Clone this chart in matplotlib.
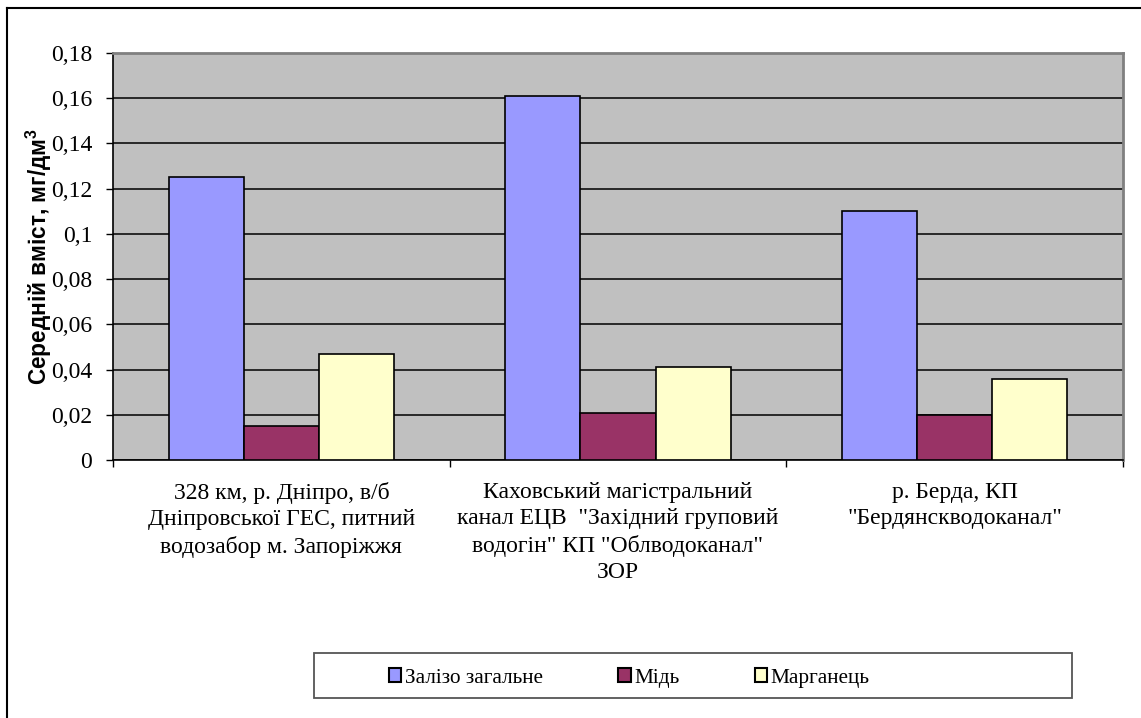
import matplotlib
matplotlib.use("Agg")
import matplotlib.pyplot as plt
from matplotlib.patches import Rectangle, Patch
from matplotlib.lines import Line2D
import numpy as np

plt.rcParams['font.family'] = ['Liberation Serif', 'DejaVu Serif']
plt.rcParams['mathtext.fontset'] = 'custom'
plt.rcParams['mathtext.rm'] = 'Liberation Sans:bold'
plt.rcParams['mathtext.it'] = 'Liberation Sans:bold'
plt.rcParams['mathtext.bf'] = 'Liberation Sans:bold'

# дані
categories = [
    "328 км, р. Дніпро, в/б\nДніпровської ГЕС, питний\nводозабор м. Запоріжжя",
    "Каховський магістральний\nканал ЕЦВ  \"Західний груповий\nводогін\" КП \"Облводоканал\"\nЗОР",
    "р. Берда, КП\n\"Бердянскводоканал\"",
]
series_names = ["Залізо загальне", "Мідь", "Марганець"]
zalizo = [0.125, 0.161, 0.110]
mid = [0.015, 0.021, 0.020]
marganets = [0.047, 0.041, 0.036]
yticks = [0, 0.02, 0.04, 0.06, 0.08, 0.1, 0.12, 0.14, 0.16, 0.18]
ytick_labels = ["0", "0,02", "0,04", "0,06", "0,08", "0,1", "0,12", "0,14", "0,16", "0,18"]

colors = ["#9999FF", "#993366", "#FFFFCC"]

W, H = 1141, 718
fig = plt.figure(figsize=(W / 100, H / 100), dpi=100)
ax = fig.add_axes([113 / W, 1 - 460 / H, (1123 - 113) / W, (460 - 53) / H])
ax.set_facecolor("#C0C0C0")

x = np.arange(len(categories))
bw = 0.223
for i, vals in enumerate([zalizo, mid, marganets]):
    ax.bar(x + (i - 1) * bw, vals, width=bw, color=colors[i],
           edgecolor="black", linewidth=1.2, zorder=3)

ax.set_xlim(-0.5, 2.5)
ax.set_ylim(0, 0.18)
ax.set_yticks(yticks)
ax.set_yticklabels(ytick_labels, fontsize=17)
ax.yaxis.grid(True, color="black", linewidth=1.1)
ax.set_axisbelow(True)
ax.tick_params(axis="y", length=5, width=1, pad=10)

ax.set_xticks(x)
ax.set_xticklabels(categories, fontsize=17, linespacing=1.32)
ax.tick_params(axis="x", which="major", length=0, pad=16)
ax.set_xticks([-0.5, 0.5, 1.5, 2.5], minor=True)
ax.tick_params(axis="x", which="minor", length=5, width=1)

for s in ["left", "bottom"]:
    ax.spines[s].set_color("black")
    ax.spines[s].set_linewidth(1.2)
for s in ["top", "right"]:
    ax.spines[s].set_color("#808080")
    ax.spines[s].set_linewidth(2)

ax.set_ylabel("Середній вміст, мг/дм$^3$", fontsize=16.3, fontweight="bold",
              family=["Liberation Sans", "DejaVu Sans"])
ax.yaxis.set_label_coords(-0.058, 0.5)

# легенда
fig.patches.append(Rectangle((314 / W, 1 - 698 / H), (1072 - 314) / W, 45 / H,
                             transform=fig.transFigure, facecolor="white",
                             edgecolor="#555555", linewidth=1.3))
handles = [Patch(facecolor=c, edgecolor="black", linewidth=1.5) for c in colors]
fig.legend(handles, series_names, loc="center left",
           bbox_to_anchor=(378 / W, 1 - 678 / H), ncol=3, frameon=False,
           fontsize=15.3, handlelength=0.6, handleheight=0.6,
           handletextpad=0.15, columnspacing=3.55, borderpad=0)

# рамка
fig.add_artist(Line2D([7 / W, 1], [1 - 8 / H, 1 - 8 / H], color="black",
                      linewidth=1.5, transform=fig.transFigure))
fig.add_artist(Line2D([7 / W, 7 / W], [0, 1 - 8 / H], color="black",
                      linewidth=1.5, transform=fig.transFigure))

fig.savefig("out.png", dpi=100)
